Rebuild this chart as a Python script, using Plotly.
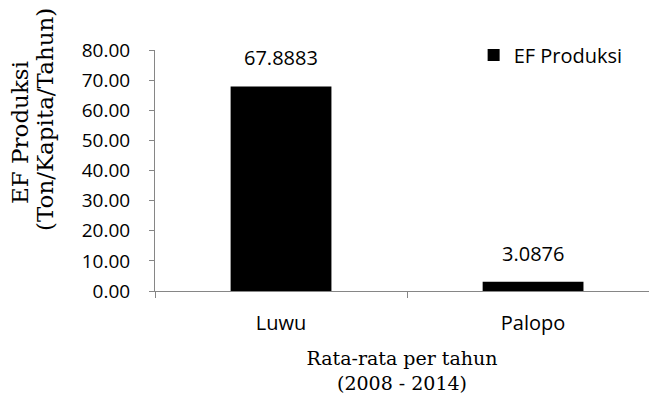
import plotly.graph_objects as go

# Average production ecological footprint per year, 2008-2014
regions = ["Luwu", "Palopo"]
ef_produksi = [67.8883, 3.0876]
y_ticks = [0, 10, 20, 30, 40, 50, 60, 70, 80]
y_tick_labels = [f"{v:.2f}" for v in y_ticks]
y_title_lines = ["EF Produksi", "(Ton/Kapita/Tahun)"]

sans = "Open Sans"
serif = "DejaVu Serif"
axis_grey = "#868686"

W, H = 649, 398
L, R, T, B = 155, 0, 50, 107
plot_w, plot_h = W - L - R, H - T - B

fig = go.Figure()
fig.add_trace(go.Bar(
    x=regions, y=ef_produksi, name="EF Produksi",
    marker=dict(color="black", line=dict(width=0)),
    width=0.4,
))

# Value labels above each bar
for r, v in zip(regions, ef_produksi):
    fig.add_annotation(x=r, y=v, text=f"{v:.4f}", showarrow=False,
                       yanchor="bottom", yshift=13,
                       font=dict(family=sans, size=20, color="black"))

# Two-line y title, one rotated annotation per line
for text, px, py in zip(y_title_lines, [20, 45], [133, 120]):
    fig.add_annotation(xref="paper", yref="paper",
                       x=(px - L) / plot_w, y=(H - B - py) / plot_h,
                       text=text, textangle=-90, showarrow=False,
                       xanchor="center", yanchor="middle",
                       font=dict(family=serif, size=23, color="black"))

fig.update_layout(
    width=W, height=H,
    margin=dict(l=L, r=R, t=T, b=B),
    paper_bgcolor="white", plot_bgcolor="white",
    showlegend=True,
    legend=dict(x=0.645, y=1.06, xanchor="left", yanchor="top",
                font=dict(family=sans, size=20, color="black"),
                bgcolor="rgba(0,0,0,0)", itemwidth=30),
    bargap=0.6,
)
fig.update_xaxes(
    type="category", range=[-0.5, 1.46],
    showline=True, linecolor=axis_grey, linewidth=1,
    ticks="outside", tickson="boundaries", ticklen=6, tickcolor=axis_grey,
    ticklabelstandoff=14,
    tickfont=dict(family=sans, size=20, color="black"),
    showgrid=False,
    title=dict(text="Rata-rata per tahun<br>(2008 - 2014)",
               font=dict(family=serif, size=19, color="black"), standoff=16),
)
# Long transparent major ticks push the labels out; short grey minor ticks
# mark the values on the axis line.
fig.update_yaxes(
    range=[0, 80], tickvals=y_ticks, ticktext=y_tick_labels,
    showline=True, linecolor=axis_grey, linewidth=1,
    ticks="outside", ticklen=20, tickcolor="rgba(0,0,0,0)",
    minor=dict(ticks="outside", ticklen=5, tickcolor=axis_grey,
               tick0=0, dtick=10, showgrid=False),
    tickfont=dict(family=sans, size=19, color="black"),
    showgrid=False, zeroline=False,
)

fig.write_html("out.html")
